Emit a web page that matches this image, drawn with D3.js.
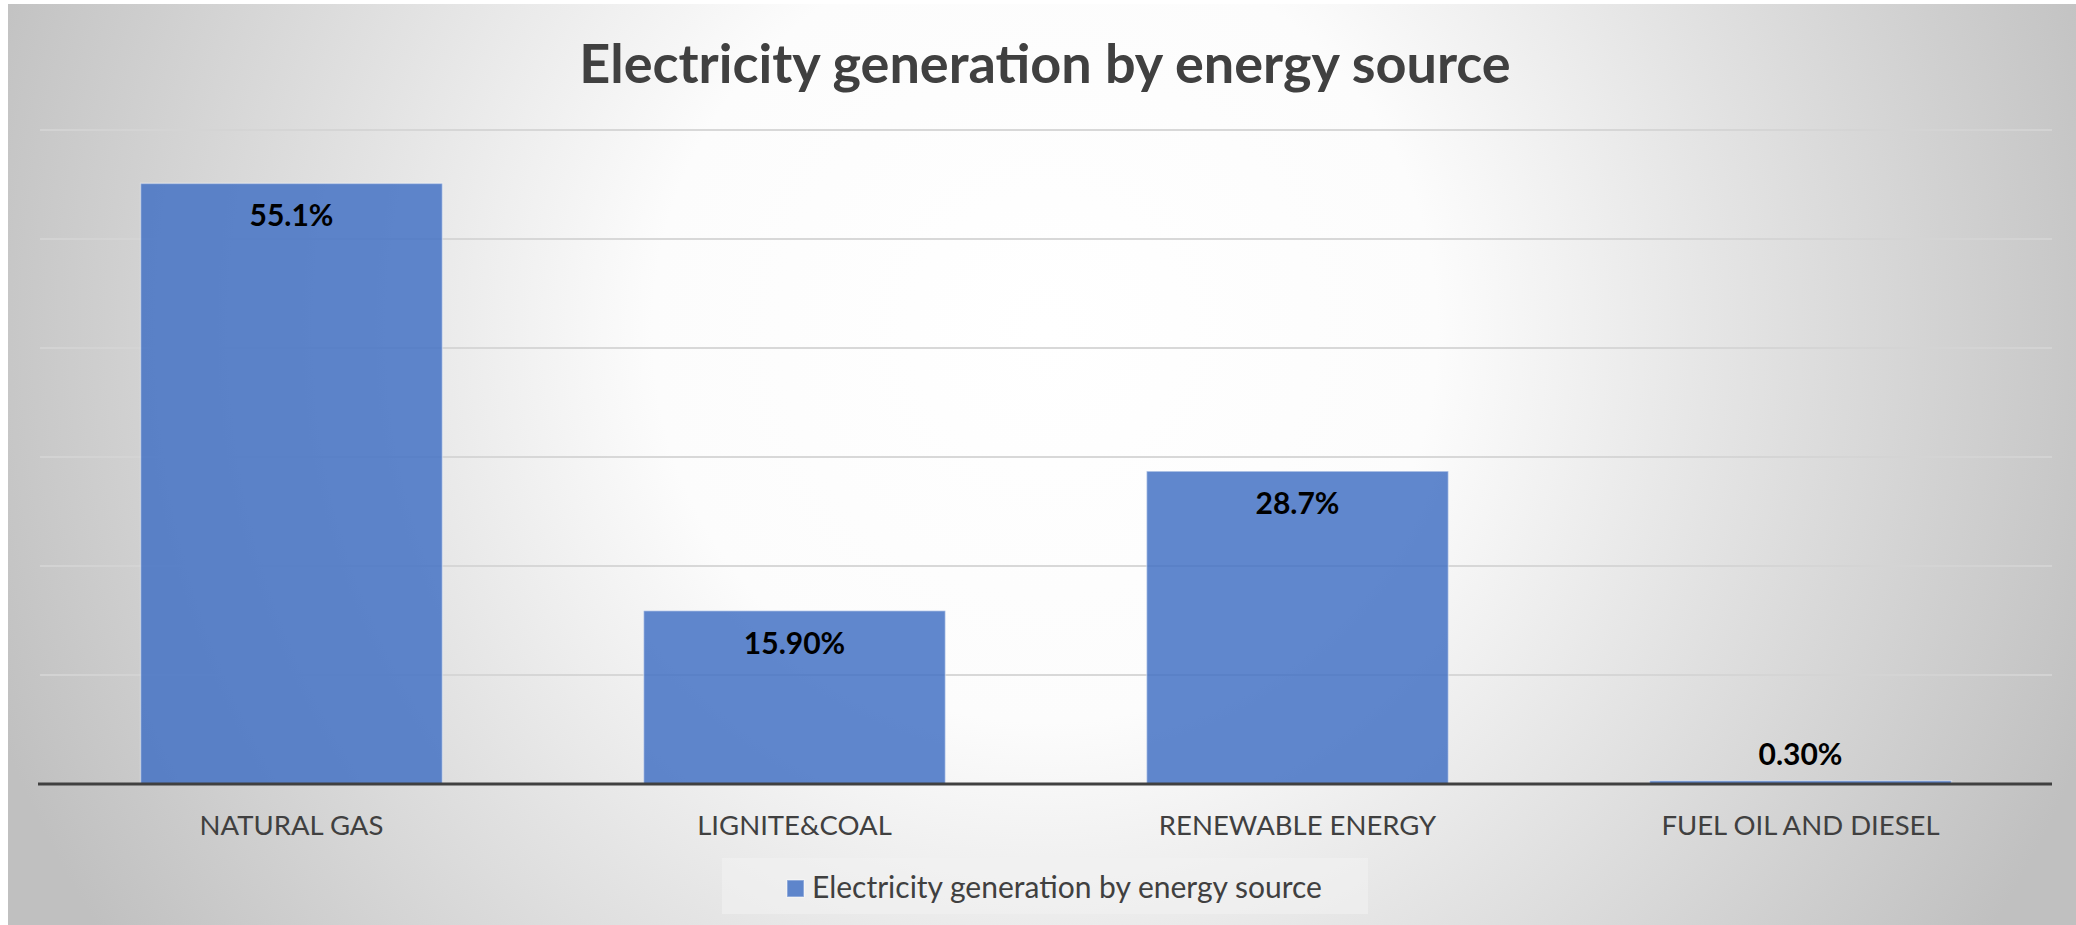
<!DOCTYPE html>
<html>
<head>
<meta charset="utf-8">
<script src="https://cdn.jsdelivr.net/npm/d3@7"></script>
<style>
    html, body { margin: 0; padding: 0; background: #ffffff; overflow: hidden; }
    svg { display: block; }
    .cat-label { font-family: Lato, "Open Sans", sans-serif; fill: #404040; }
    .value-label { font-family: Lato, "Open Sans", sans-serif; font-weight: bold; fill: #000000; }
</style>
</head>
<body>
<div id="chart"></div>
<script>
// Data
const categories = ['NATURAL GAS', 'LIGNITE&COAL', 'RENEWABLE ENERGY', 'FUEL OIL AND DIESEL'];
const values = [55.1, 15.9, 28.7, 0.3];
const valueLabels = ['55.1%', '15.90%', '28.7%', '0.30%'];
const yTicks = [0, 10, 20, 30, 40, 50, 60];
const seriesName = 'Electricity generation by energy source';
const chartTitle = 'Electricity generation by energy source';

const width = 2076;
const height = 925;

const svg = d3.select('#chart')
    .append('svg')
    .attr('width', width)
    .attr('height', height);

// Background gradient (Excel style radial)
const defs = svg.append('defs');
const grad = defs.append('radialGradient')
    .attr('id', 'bg-grad')
    .attr('gradientUnits', 'userSpaceOnUse')
    .attr('cx', 1045)
    .attr('cy', 330)
    .attr('r', 1120);
grad.append('stop').attr('offset', 0).attr('stop-color', '#ffffff');
grad.append('stop').attr('offset', 0.35).attr('stop-color', '#fcfcfc');
grad.append('stop').attr('offset', 1).attr('stop-color', '#c0c0c0');

svg.append('rect')
    .attr('x', 8)
    .attr('y', 4)
    .attr('width', width - 8)
    .attr('height', height - 4)
    .attr('fill', 'url(#bg-grad)');

// Scales
const x = d3.scaleBand()
    .domain(categories)
    .range([40, 2052])
    .paddingInner(0.4)
    .paddingOuter(0.2);

const y = d3.scaleLinear()
    .domain([0, 60])
    .range([784, 130]);

// Gridlines
svg.append('g')
    .selectAll('line')
    .data(yTicks.filter(t => t > 0))
    .join('line')
    .attr('x1', 40)
    .attr('x2', 2052)
    .attr('y1', d => y(d))
    .attr('y2', d => y(d))
    .attr('stroke', '#d4d4d4')
    .attr('stroke-opacity', 0.9)
    .attr('stroke-width', 2);

// Bars
svg.append('g')
    .selectAll('rect')
    .data(values)
    .join('rect')
    .attr('x', (d, i) => x(categories[i]))
    .attr('y', d => y(d))
    .attr('width', x.bandwidth())
    .attr('height', d => y(0) - y(d))
    .attr('fill', '#4472c4')
    .attr('fill-opacity', 0.85)
    .attr('stroke', '#ffffff')
    .attr('stroke-opacity', 0.4)
    .attr('stroke-width', 1.5);

// Value labels: inside end, or above when the bar is too short
svg.append('g')
    .selectAll('text')
    .data(values)
    .join('text')
    .attr('class', 'value-label')
    .attr('x', (d, i) => x(categories[i]) + x.bandwidth() / 2)
    .attr('y', d => (y(0) - y(d)) > 50 ? y(d) + 43 : y(d) - 16)
    .attr('text-anchor', 'middle')
    .attr('font-size', 30)
    .text((d, i) => valueLabels[i]);

// X axis line
svg.append('line')
    .attr('x1', 38)
    .attr('x2', 2052)
    .attr('y1', y(0))
    .attr('y2', y(0))
    .attr('stroke', '#404040')
    .attr('stroke-width', 3);

// Category labels
svg.append('g')
    .selectAll('text')
    .data(categories)
    .join('text')
    .attr('class', 'cat-label')
    .attr('x', d => x(d) + x.bandwidth() / 2)
    .attr('y', 835)
    .attr('text-anchor', 'middle')
    .attr('font-size', 27.5)
    .text(d => d);

// Title
svg.append('text')
    .attr('x', 1045)
    .attr('y', 83)
    .attr('text-anchor', 'middle')
    .attr('font-family', 'Lato, "Open Sans", sans-serif')
    .attr('font-weight', 'bold')
    .attr('font-size', 54)
    .attr('fill', '#404040')
    .text(chartTitle);

// Legend
const legend = svg.append('g');
legend.append('rect')
    .attr('x', 722)
    .attr('y', 858)
    .attr('width', 646)
    .attr('height', 56)
    .attr('fill', '#f2f2f2')
    .attr('fill-opacity', 0.6);
legend.append('rect')
    .attr('x', 787)
    .attr('y', 880)
    .attr('width', 17)
    .attr('height', 17)
    .attr('fill', '#4472c4')
    .attr('fill-opacity', 0.85)
    .attr('stroke', '#ffffff')
    .attr('stroke-opacity', 0.4)
    .attr('stroke-width', 1.5);
legend.append('text')
    .attr('x', 812)
    .attr('y', 898)
    .attr('font-family', 'Lato, "Open Sans", sans-serif')
    .attr('font-size', 30)
    .attr('fill', '#404040')
    .text(seriesName);
</script>
</body>
</html>
